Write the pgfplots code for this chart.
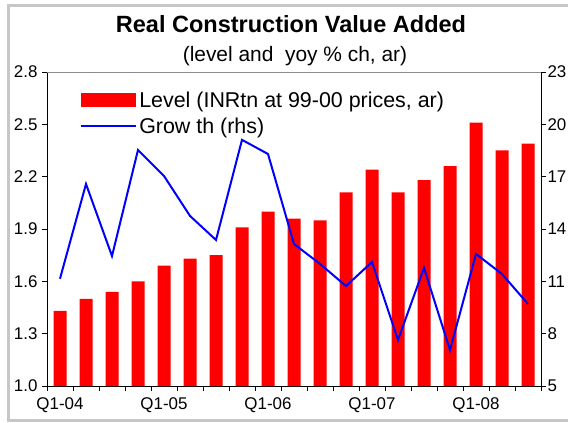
\documentclass[border=0pt]{standalone}
\usepackage{pgfplots}
\pgfplotsset{compat=1.18}
\usepackage{fontspec}
\setmainfont{Liberation Sans}

\definecolor{framegray}{gray}{0.78}
\definecolor{levelred}{RGB}{255,0,0}
\definecolor{growthblue}{RGB}{0,0,255}

\begin{document}
\begin{tikzpicture}
% page area and outer frame
\useasboundingbox (0bp,0bp) rectangle (568bp,423bp);
\draw[line width=3bp, framegray] (568bp,417.2bp) -- (8.7bp,417.2bp) -- (8.7bp,2bp) -- (568bp,2bp);

% titles
\node[anchor=base, font=\fontsize{23.6}{28}\selectfont\bfseries] at (291bp,390bp) {Real Construction Value Added};
\node[anchor=base, font=\fontsize{21}{25}\selectfont] at (295bp,361bp) {(level and\ \ yoy \% ch, ar)};

% level bars (left axis)
\begin{axis}[
  at={(47bp,37bp)}, anchor=south west,
  scale only axis, width=494bp, height=314bp,
  xmin=0.5, xmax=19.5, ymin=1, ymax=2.8,
  axis x line*=bottom, axis y line*=left,
  axis line style={-, black, line width=0.8bp},
  tick align=outside, major tick length=5bp,
  tick style={black, line width=0.8bp},
  xtick={0.5,1.5,...,19.5}, xticklabels={},
  extra x ticks={1,5,9,13,17},
  extra x tick labels={Q1-04,Q1-05,Q1-06,Q1-07,Q1-08},
  extra x tick style={major tick length=0bp, xticklabel style={yshift=-8bp}},
  ytick={1.0,1.3,1.6,1.9,2.2,2.5,2.8},
  yticklabels={1.0,1.3,1.6,1.9,2.2,2.5,2.8},
  tick label style={font=\fontsize{17}{20}\selectfont},
  yticklabel style={xshift=-1bp},
  ybar, bar width=13bp,
  legend style={at={(0.067,0.868)}, anchor=west, draw=none, fill=none,
    font=\fontsize{21.5}{25}\selectfont, inner sep=0pt, row sep=5bp},
  legend cell align=left,
  clip=false,
]
\addplot[fill=levelred, draw=none,
  legend image code/.code={\fill[levelred] (0bp,-7bp) rectangle (55bp,7bp);}]
  coordinates {
  (1,1.43) (2,1.50) (3,1.54) (4,1.60) (5,1.69) (6,1.73) (7,1.75)
  (8,1.91) (9,2.00) (10,1.96) (11,1.95) (12,2.11) (13,2.24) (14,2.11)
  (15,2.18) (16,2.26) (17,2.51) (18,2.35) (19,2.39)};
\addlegendentry{Level (INRtn at 99-00 prices, ar)}
\addlegendimage{growthblue, line width=2bp,
  legend image code/.code={\draw[growthblue, line width=2bp] (0bp,0bp) -- (55bp,0bp);}}
\addlegendentry{Grow th (rhs)}
% top border of the plot area
\draw[black!45, line width=0.8bp] (rel axis cs:0,1) -- (rel axis cs:1,1);
\end{axis}

% growth line (right axis)
\begin{axis}[
  at={(47bp,37bp)}, anchor=south west,
  scale only axis, width=494bp, height=314bp,
  xmin=0.5, xmax=19.5, ymin=5, ymax=23,
  axis x line=none, axis y line*=right,
  axis line style={-, black, line width=0.8bp},
  tick align=outside, major tick length=5bp,
  tick style={black, line width=0.8bp},
  ytick={5,8,11,14,17,20,23},
  yticklabels={5,8,11,14,17,20,23},
  tick label style={font=\fontsize{17}{20}\selectfont},
  yticklabel style={xshift=-2bp},
]
\addplot[growthblue, line width=2bp, mark=none] coordinates {
  (1,11.15) (2,16.58) (3,12.45) (4,18.53) (5,17.04) (6,14.75) (7,13.37)
  (8,19.11) (9,18.30) (10,13.14) (11,12.00) (12,10.73) (13,12.11) (14,7.64)
  (15,11.77) (16,7.06) (17,12.57) (18,11.42) (19,9.70)};
\end{axis}
\end{tikzpicture}
\end{document}
